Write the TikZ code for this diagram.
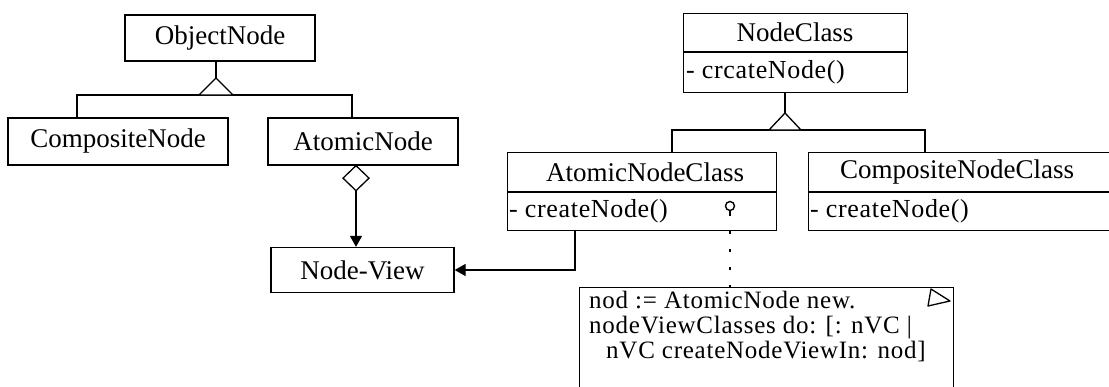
\documentclass[tikz,border=0pt]{standalone}
\usepackage{fontspec}
\setmainfont{Liberation Serif}
\newfontfamily\methfam[LetterSpace=2.5]{Liberation Serif}
\newfontfamily\notefam[LetterSpace=3]{Liberation Serif}
\usetikzlibrary{arrows.meta}
\newcommand{\titlef}{\fontsize{27}{32}\selectfont}
\newcommand{\methf}{\methfam\fontsize{26}{31}\selectfont}
\newcommand{\notef}{\notefam\fontsize{25}{30}\selectfont}
\tikzset{
  cbox/.style={draw, line width=1.3pt, inner sep=0pt, font=\titlef},
  ubox/.style={draw, line width=1.3pt, inner sep=0pt, anchor=north west},
  lbl/.style={inner sep=0pt, font=\titlef},
  meth/.style={inner sep=0pt, anchor=west, font=\methf},
  notetxt/.style={inner sep=0pt, anchor=base west, font=\notef},
  conn/.style={line width=1.3pt},
  arr/.style={conn, -{Triangle[length=11pt,width=12pt]}},
  gen/.style={line width=1.3pt, fill=white, line join=miter},
}
\begin{document}
\begin{tikzpicture}[x=1pt,y=-1pt]
\useasboundingbox (0,0) rectangle (1109,386);
\clip (0,0) rectangle (1109,386);

% ---------- left group ----------
\node[cbox, minimum width=190pt, minimum height=46pt] (obj) at (220,38) {ObjectNode};
\node[cbox, minimum width=220pt, minimum height=47pt] (comp) at (118,141.5) {CompositeNode};
\node[cbox, minimum width=190pt, minimum height=47pt] (atom) at (363,141.5) {AtomicNode};
\node[cbox, minimum width=183pt, minimum height=45pt] (nview) at (362.5,270) {Node-View};

\coordinate (g1) at (216,95);
\coordinate (g1L) at (77,95);
\coordinate (g1R) at (352,95);
\draw[conn] (obj.south -| g1) -- ([yshift=17pt]g1);
\draw[conn] (comp.north -| g1L) -- (g1L) -- (g1R) -- (atom.north -| g1R);
\draw[gen] (g1) ++(-17,0) -- ++(17,-17) -- ++(17,17) -- cycle;

\coordinate (dx) at (356,0);
\coordinate (dbot) at (356,190);
\draw[gen] (atom.south -| dx) -- ++(13,12.5) -- ++(-13,12.5) -- ++(-13,-12.5) -- cycle;
\draw[arr] (dbot) -- (nview.north -| dbot);

% ---------- right group ----------
\node[ubox, minimum width=224pt, minimum height=79pt] (nc) at (683,13) {};
\draw[conn] (683,52) -- (907,52);
\node[lbl] (ncT) at (795,32.5) {NodeClass};
\node[meth] (ncM) at (686,72) {- crcateNode()};

\coordinate (g2) at (785,130);
\coordinate (g2L) at (672,130);
\coordinate (g2R) at (925,130);
\node[ubox, minimum width=269pt, minimum height=78pt] (anc) at (507,152) {};
\node[ubox, minimum width=330pt, minimum height=78pt] (cnc) at (808,152) {};
\draw[conn] (nc.south -| g2) -- ([yshift=17pt]g2);
\draw[conn] (anc.north -| g2L) -- (g2L) -- (g2R) -- (cnc.north -| g2R);
\draw[gen] (g2) ++(-16,0) -- ++(16,-17) -- ++(16,17) -- cycle;

\draw[conn] (507,192) -- (776,192);
\node[lbl] (ancT) at (645,172) {AtomicNodeClass};
\node[meth] (ancM) at (509,211) {- createNode()};
\node[circle, draw, line width=1.4pt, minimum size=9pt, inner sep=0pt] (lolly) at (730,206) {};
\draw[line width=1.4pt] (lolly.south) -- ++(0,5);

\draw[conn] (808,192) -- (1138,192);
\node[lbl] (cncT) at (957,172) {CompositeNodeClass};
\node[meth] (cncM) at (810,211) {- createNode()};

% arrow to Node-View
\coordinate (ax) at (575,0);
\draw[arr] (anc.south -| ax) |- (nview.east);

% ---------- note ----------
\node[ubox, minimum width=374pt, minimum height=130pt] (note) at (579,287) {};
\draw[line width=1.3pt, line join=round] (931,289) -- (950,301) -- (928,306) -- cycle;
\coordinate (dotx) at (730,0);
\draw[line width=1.6pt, dash pattern=on 3pt off 15pt] (anc.south -| dotx) -- (note.north -| dotx);

\node[notetxt] (n1) at (589,308) {nod := AtomicNode new.};
\node[notetxt] (n2) at (589,333) {nodeViewClasses do: [: nVC |};
\node[notetxt] (n3) at (606,358) {nVC createNodeViewIn: nod]};
\end{tikzpicture}
\end{document}
